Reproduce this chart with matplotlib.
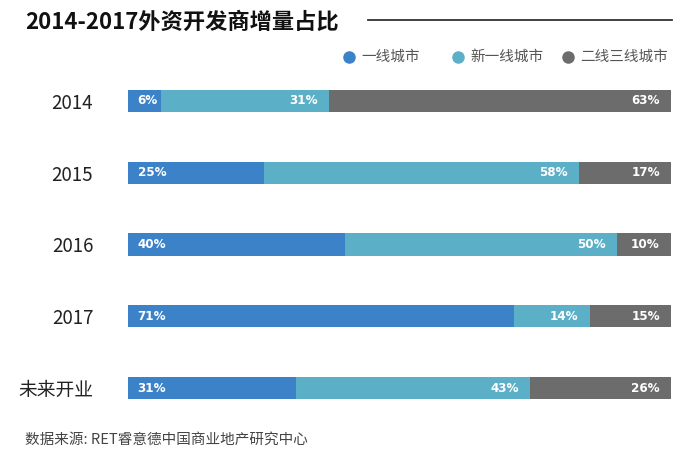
import matplotlib
matplotlib.use("Agg")
import matplotlib.pyplot as plt
from matplotlib.lines import Line2D

plt.rcParams['font.family'] = ['Noto Sans CJK SC', 'DejaVu Sans']

categories = ['2014', '2015', '2016', '2017', '未来开业']
series_names = ['一线城市', '新一线城市', '二线三线城市']
tier1 = [6, 25, 40, 71, 31]
new_tier1 = [31, 58, 50, 14, 43]
tier23 = [63, 17, 10, 15, 26]
colors = ['#3b82c9', '#5bb0c8', '#6c6c6c']

W, H = 700, 466
fig = plt.figure(figsize=(W / 100, H / 100), dpi=100)

# axes in pixel coords
x0, x1 = 128, 671
row0, row4 = 101, 388
sp = (row4 - row0) / 4
top = row0 - sp / 2
bot = row4 + sp / 2
ax = fig.add_axes([x0 / W, 1 - bot / H, (x1 - x0) / W, (bot - top) / H])

ypos = list(range(len(categories)))
series = [tier1, new_tier1, tier23]
lefts = [0] * len(categories)
for si, vals in enumerate(series):
    ax.barh(ypos, vals, left=lefts, height=0.31, color=colors[si], edgecolor='none')
    for i, v in enumerate(vals):
        if si == 0:
            ax.annotate(f'{v}%', (lefts[i], ypos[i]), xytext=(7, 0), textcoords='offset points',
                        ha='left', va='center', color='white', fontsize=9.5, fontweight='bold',
                        family='DejaVu Sans', fontstretch='condensed')
        else:
            ax.annotate(f'{v}%', (lefts[i] + v, ypos[i]), xytext=(-8, 0), textcoords='offset points',
                        ha='right', va='center', color='white', fontsize=9.5, fontweight='bold',
                        family='DejaVu Sans', fontstretch='condensed')
    lefts = [l + v for l, v in zip(lefts, vals)]

ax.set_xlim(0, 100)
ax.set_ylim(len(categories) - 0.5, -0.5)
ax.set_yticks(ypos)
ax.set_yticklabels(categories, fontsize=13.5, color='#222222')
ax.tick_params(axis='y', length=0, pad=25)
ax.set_xticks([])
for s in ax.spines.values():
    s.set_visible(False)

# title
fig.text(25 / W, 1 - 22 / H, '2014-2017外资开发商增量占比', fontsize=16, fontweight='bold',
         color='#111111', ha='left', va='center')
fig.add_artist(Line2D([368 / W, 672 / W], [1 - 20 / H, 1 - 20 / H], color='#333333', lw=1.3))

# legend
leg_x = [349, 458, 568]
for lx, name, c in zip(leg_x, series_names, colors):
    fig.add_artist(Line2D([lx / W], [1 - 57 / H], marker='o', markersize=8, color=c, lw=0))
    fig.text((lx + 12) / W, 1 - 57 / H, name, fontsize=10.5, color='#555555', ha='left', va='center')

# source
fig.text(25 / W, 1 - 440 / H, '数据来源: RET睿意德中国商业地产研究中心', fontsize=10.5,
         color='#444444', ha='left', va='center', style='italic')

fig.savefig('out.png', dpi=100)
